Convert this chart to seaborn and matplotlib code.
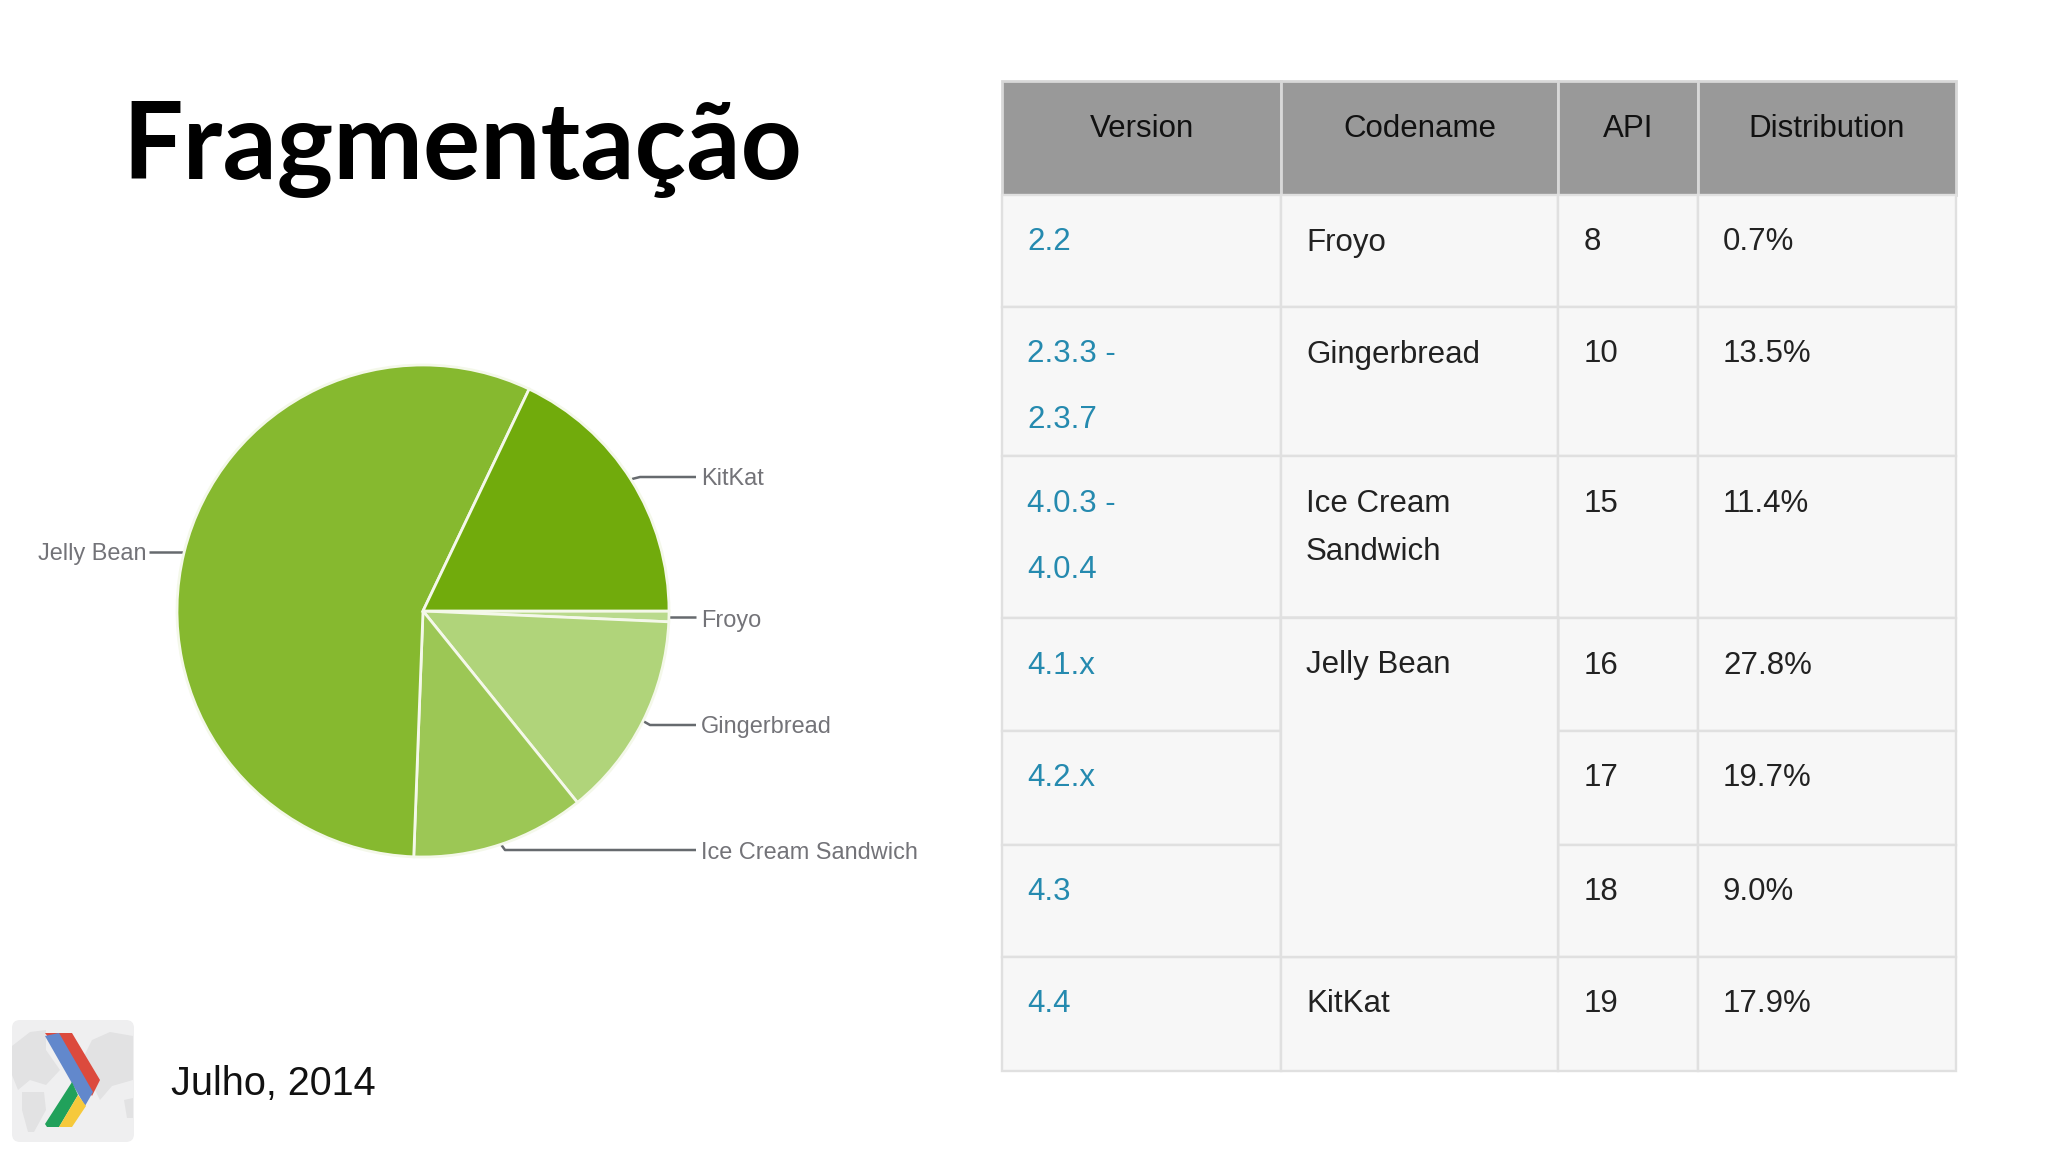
import matplotlib
matplotlib.use('Agg')
import matplotlib.pyplot as plt
import seaborn as sns
from matplotlib.patches import Rectangle, FancyBboxPatch, Polygon

# Dados
fatias = ['Froyo', 'Gingerbread', 'Ice Cream Sandwich', 'Jelly Bean', 'KitKat']
valores = [0.7, 13.5, 11.4, 56.5, 17.9]
cores = ['#b9da8c', '#b0d47a', '#9cc755', '#86b92f', '#71ab0c']

cabecalho = ['Version', 'Codename', 'API', 'Distribution']
versoes = ['2.2', '2.3.3 -\n2.3.7', '4.0.3 -\n4.0.4', '4.1.x', '4.2.x', '4.3', '4.4']
codenames = ['Froyo', 'Gingerbread', 'Ice Cream\nSandwich', 'Jelly Bean', '', '', 'KitKat']
apis = ['8', '10', '15', '16', '17', '18', '19']
distribuicao = ['0.7%', '13.5%', '11.4%', '27.8%', '19.7%', '9.0%', '17.9%']

# Grade da tabela, em pixels da imagem
col_x = [1002, 1281, 1558, 1698, 1956]
lin_y = [81, 195, 307, 456, 618, 731, 845, 957, 1071]

sns.set_theme(style='white')
plt.rcParams['font.family'] = ['Liberation Sans', 'DejaVu Sans']

fig = plt.figure(figsize=(20.48, 11.52), dpi=100, facecolor='white')
tela = fig.add_axes([0, 0, 1, 1])
tela.set_xlim(0, 2048)
tela.set_ylim(1152, 0)
tela.axis('off')

# Titulo
tela.text(122, 179, 'Fragmentação', fontsize=77, fontweight='bold', family='Lato',
          color='black', va='baseline', ha='left')

# Pizza
cx, cy, raio = 423, 611, 246
ax = fig.add_axes([(cx - raio) / 2048, 1 - (cy + raio) / 1152, 2 * raio / 2048, 2 * raio / 1152])
ax.pie(valores, colors=sns.color_palette(cores), startangle=0, counterclock=False, radius=1,
       wedgeprops={'edgecolor': '#f4f8ea', 'linewidth': 2})
ax.set_xlim(-1, 1)
ax.set_ylim(-1, 1)

# Rotulos da pizza
cinza = '#737378'
linhas = {
    'KitKat': ([632, 640, 696], [479, 477, 477], 701, 479, 'left'),
    'Froyo': ([668, 696], [617, 617], 701, 621, 'left'),
    'Gingerbread': ([643, 650, 696], [721, 725, 725], 701, 727, 'left'),
    'Ice Cream Sandwich': ([500, 505, 696], [843, 850, 850], 701, 853, 'left'),
    'Jelly Bean': ([186, 149], [552, 552], 146, 554, 'right'),
}
for nome in fatias:
    xs, ys, tx, ty, al = linhas[nome]
    tela.plot(xs, ys, color='#666a6e', lw=1.8, solid_capstyle='butt')
    tela.text(tx, ty, nome, fontsize=16.95, color=cinza, ha=al, va='center')

# Tabela
linha_cor = '#e0e0e0'
for i in range(len(cabecalho)):
    tela.add_patch(Rectangle((col_x[i], lin_y[0]), col_x[i + 1] - col_x[i], lin_y[1] - lin_y[0],
                             fc='#999999', ec='#d8d8d8', lw=2))
    tela.text((col_x[i] + col_x[i + 1]) / 2, lin_y[0] + 48, cabecalho[i], fontsize=22.5,
              color='#111111', ha='center', va='center')

for lin in range(len(versoes)):
    topo, base = lin_y[lin + 1], lin_y[lin + 2]
    for i in range(4):
        # Jelly Bean ocupa tres linhas na coluna Codename
        if i == 1 and lin in (3, 4, 5):
            continue
        tela.add_patch(Rectangle((col_x[i], topo), col_x[i + 1] - col_x[i], base - topo,
                                 fc='#f7f7f7', ec=linha_cor, lw=1.7))
    tela.add_patch(Rectangle((col_x[1], lin_y[4]), col_x[2] - col_x[1], lin_y[7] - lin_y[4],
                             fc='#f7f7f7', ec=linha_cor, lw=1.7))

for lin in range(len(versoes)):
    y = lin_y[lin + 1] + 47.5
    for k, parte in enumerate(versoes[lin].split('\n')):
        tela.text(col_x[0] + 25, y + 66 * k, parte, fontsize=22.5, color='#258aaf', va='center')
    for k, parte in enumerate(codenames[lin].split('\n')):
        tela.text(col_x[1] + 25, y + 49 * k, parte, fontsize=22.5, color='#222222', va='center')
    tela.text(col_x[2] + 26, y, apis[lin], fontsize=22.5, color='#222222', va='center')
    tela.text(col_x[3] + 25, y, distribuicao[lin], fontsize=22.5, color='#222222', va='center')

# Rodape
tela.text(171, 1084, 'Julho, 2014', fontsize=28.5, color='#111111', va='center')

# Logo
tela.add_patch(FancyBboxPatch((18, 1026), 110, 110, boxstyle='round,pad=6,rounding_size=8',
                              fc='#efeff0', ec='none'))
mapa = [
    [(12, 1046), (30, 1032), (46, 1030), (46, 1050), (60, 1070), (46, 1085), (30, 1080), (18, 1090), (12, 1075)],
    [(22, 1092), (44, 1092), (46, 1110), (34, 1132), (28, 1132), (22, 1110)],
    [(92, 1040), (110, 1032), (133, 1036), (133, 1080), (112, 1086), (100, 1100), (90, 1080), (84, 1056)],
    [(124, 1100), (133, 1098), (133, 1118), (127, 1118)],
]
for forma in mapa:
    tela.add_patch(Polygon(forma, fc='#e2e2e3', ec='none'))
tela.add_patch(Polygon([(45, 1033), (72, 1033), (100, 1080), (92, 1096)], fc='#dc4a3d', ec='none'))
tela.add_patch(Polygon([(45, 1036), (59, 1033), (93, 1092), (85, 1106)], fc='#6288cc', ec='none'))
tela.add_patch(Polygon([(45, 1124), (72, 1082), (78, 1095), (59, 1127), (47, 1127)], fc='#21a15b', ec='none'))
tela.add_patch(Polygon([(59, 1127), (78, 1095), (86, 1106), (72, 1127)], fc='#f6c93b', ec='none'))

fig.savefig('out.png', dpi=100, facecolor='white')
